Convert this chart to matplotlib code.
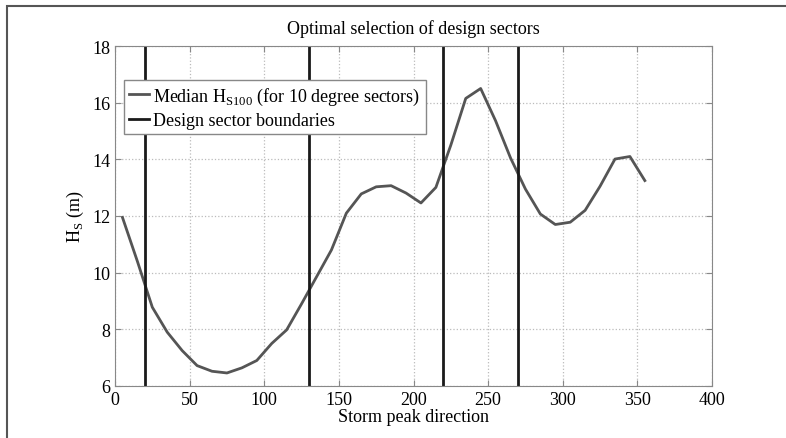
import matplotlib
matplotlib.use("Agg")
import matplotlib.pyplot as plt
from matplotlib.patches import Rectangle

# sector centres (deg) and median Hs100 (m)
direction = [5, 15, 25, 35, 45, 55, 65, 75, 85, 95, 105, 115, 125, 135, 145, 155, 165, 175,
             185, 195, 205, 215, 225, 235, 245, 255, 265, 275, 285, 295, 305, 315, 325, 335,
             345, 355]
hs_median = [11.95, 10.4, 8.78, 7.9, 7.25, 6.72, 6.52, 6.46, 6.64, 6.9, 7.5, 7.98, 8.9, 9.85,
             10.8, 12.1, 12.78, 13.03, 13.07, 12.81, 12.46, 13.01, 14.5, 16.15, 16.5, 15.36,
             14.05, 12.95, 12.07, 11.7, 11.78, 12.2, 13.05, 14.01, 14.1, 13.25]
boundaries = [20, 130, 220, 270]

plt.rcParams['font.family'] = ['Liberation Serif', 'DejaVu Serif']
plt.rcParams['mathtext.fontset'] = 'custom'
plt.rcParams['mathtext.rm'] = 'Liberation Serif'

fig = plt.figure(figsize=(7.86, 4.39), dpi=100)
ax = fig.add_axes([115/786, 1-387/439, (712-115)/786, (387-47)/439])

# frame round the whole figure (cut at right and bottom)
fig.patches.append(Rectangle((7/786, -0.1), 1.2, 1.1 - 7/439 + 0.0, transform=fig.transFigure,
                             fill=False, edgecolor='#555555', linewidth=1.5))

ax.plot(direction, hs_median, color='#555555', lw=2, label=r'Median H$_{\mathrm{S100}}$ (for 10 degree sectors)')
for i, b in enumerate(boundaries):
    ax.axvline(b, color='#1a1a1a', lw=2, label='Design sector boundaries' if i == 0 else None)

ax.set_xlim(0, 400)
ax.set_ylim(6, 18)
ax.set_xticks(range(0, 401, 50))
ax.set_yticks(range(6, 19, 2))
ax.grid(True, linestyle=':', color='#bbbbbb', lw=0.9)
ax.tick_params(direction='in', top=True, right=True, labelsize=13, color='#888888', length=4)
for s in ax.spines.values():
    s.set_color('#888888')

ax.set_title('Optimal selection of design sectors', fontsize=13, pad=9)
ax.set_xlabel('Storm peak direction', fontsize=13, labelpad=0)
ax.set_ylabel(r'H$_{\mathrm{S}}$ (m)', fontsize=13, labelpad=4)

leg = ax.legend(loc='upper left', bbox_to_anchor=(0.015, 0.9), fontsize=13, handlelength=1.1,
                handletextpad=0.2, borderpad=0.3, labelspacing=0.3, fancybox=False,
                framealpha=1, borderaxespad=0)
leg.get_frame().set_edgecolor('#888888')
leg.get_frame().set_linewidth(1)

fig.savefig('out.png', dpi=100)
